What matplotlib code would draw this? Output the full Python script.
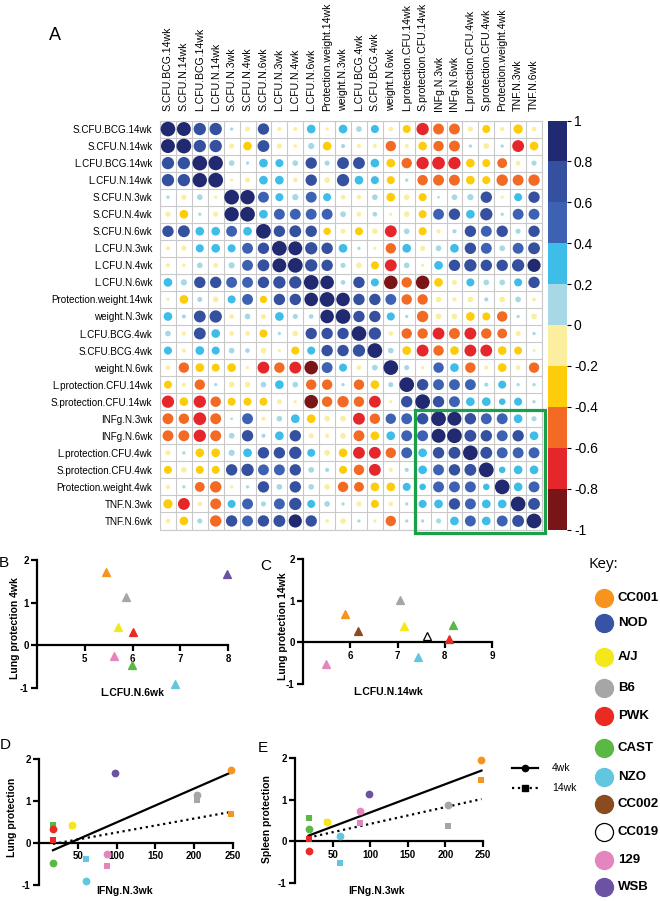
import numpy as np
import matplotlib
matplotlib.use("Agg")
import matplotlib.pyplot as plt
from matplotlib.colors import ListedColormap, BoundaryNorm
from matplotlib.patches import Rectangle

plt.rcParams["font.family"] = ["Liberation Sans", "DejaVu Sans"]

# ---- panel A: correlation matrix (lower triangle, mirrored) ----
VARS = ["S.CFU.BCG.14wk", "S.CFU.N.14wk", "L.CFU.BCG.14wk", "L.CFU.N.14wk",
        "S.CFU.N.3wk", "S.CFU.N.4wk", "S.CFU.N.6wk", "L.CFU.N.3wk", "L.CFU.N.4wk",
        "L.CFU.N.6wk", "Protection.weight.14wk", "weight.N.3wk", "L.CFU.BCG.4wk",
        "S.CFU.BCG.4wk", "weight.N.6wk", "L.protection.CFU.14wk", "S.protection.CFU.14wk",
        "INFg.N.3wk", "INFg.N.6wk", "L.protection.CFU.4wk", "S.protection.CFU.4wk",
        "Protection.weight.4wk", "TNF.N.3wk", "TNF.N.6wk"]

LOWER = [
    [1],
    [0.9, 1],
    [0.7, 0.7, 1],
    [0.7, 0.7, 0.95, 1],
    [0.05, -0.12, 0.15, -0.05, 1],
    [-0.12, -0.35, 0.05, -0.12, 0.95, 1],
    [0.6, 0.65, 0.35, 0.35, 0.55, 0.35, 1],
    [-0.08, -0.12, 0.3, 0.35, 0.3, 0.55, 0.6, 1],
    [-0.08, -0.06, 0.15, -0.1, 0.18, 0.55, 0.65, 0.9, 1],
    [0.35, 0.18, 0.6, 0.6, 0.55, 0.55, 0.6, 0.7, 0.7, 1],
    [-0.05, -0.35, 0.12, -0.15, 0.3, 0.55, -0.25, 0.6, 0.6, 0.85, 1],
    [0.35, 0.08, 0.65, 0.7, -0.1, 0.15, -0.12, 0.35, 0.12, 0.1, 0.85, 1],
    [0.15, -0.08, 0.65, 0.35, -0.1, -0.1, -0.3, 0.05, -0.15, 0.6, 0.6, 0.6, 1],
    [0.3, -0.08, 0.35, 0.3, 0.15, 0.1, -0.15, -0.05, -0.3, 0.3, 0.6, 0.6, 0.7, 1],
    [-0.1, -0.5, -0.35, -0.3, -0.35, -0.05, -0.65, -0.5, -0.65, -0.85, 0.55, 0.3, -0.1, 0.15, 1],
    [-0.3, -0.08, -0.5, 0.05, -0.15, -0.15, 0.15, 0.35, 0.15, -0.5, -0.5, 0.05, -0.5, -0.35, 0.12, 1],
    [-0.7, -0.35, -0.7, -0.5, -0.3, -0.3, -0.3, -0.12, -0.05, -0.85, -0.5, -0.6, -0.5, -0.65, -0.05,
     0.6, 1],
    [-0.55, -0.5, -0.75, -0.55, 0.03, 0.55, -0.08, 0.15, 0.35, -0.35, -0.15, -0.15, -0.65, -0.5, 0.5,
     0.55, 0.6, 1],
    [-0.55, -0.55, -0.7, -0.55, 0.15, 0.6, 0.08, 0.35, 0.6, -0.12, -0.08, -0.15, -0.55, -0.35, 0.35,
     0.55, 0.55, 0.9, 1],
    [-0.12, 0.05, -0.35, -0.35, 0.18, 0.35, 0.6, 0.6, 0.7, 0.3, -0.15, -0.35, -0.65, -0.65, -0.5,
     0.55, 0.35, 0.6, 0.65, 1],
    [-0.3, -0.15, -0.3, -0.3, 0.6, 0.7, 0.55, 0.55, 0.6, 0.15, 0.08, -0.3, -0.5, -0.65, -0.08,
     0.08, 0.35, 0.55, 0.6, 0.65, 1],
    [-0.08, 0.05, -0.45, -0.6, -0.05, 0.05, 0.6, 0.15, 0.6, 0.15, -0.15, -0.5, -0.45, -0.35, -0.35,
     0.3, 0.2, 0.55, 0.55, 0.55, 0.2, 1],
    [-0.4, -0.65, -0.1, -0.55, 0.3, 0.55, 0.12, 0.55, 0.7, 0.3, 0.15, 0.05, -0.12, -0.3, -0.1,
     0.05, 0.3, 0.35, 0.6, 0.55, 0.35, 0.35, 1],
    [-0.1, -0.35, 0.12, -0.6, 0.6, 0.55, 0.6, 0.65, 0.8, 0.6, -0.06, -0.15, 0.05, -0.05, -0.5,
     0.05, 0.05, 0.12, 0.35, 0.55, 0.35, 0.55, 0.65, 1],
]

BIN_COLORS = ["#7a1517", "#e5262a", "#f26a23", "#fdcd0b", "#fcee9f",
              "#a7d8e6", "#3fbde9", "#3e62b3", "#34509f", "#212a71"]
CBAR_TICKS = [-1, -0.8, -0.6, -0.4, -0.2, 0, 0.2, 0.4, 0.6, 0.8, 1]

# ---- strains ----
STRAINS = ["CC001", "NOD", "A/J", "B6", "PWK", "CAST", "NZO", "CC002", "CC019", "129", "WSB"]
STRAIN_COLORS = ["#f7941d", "#3953a4", "#f2e81c", "#a6a6a6", "#ec2a24", "#5ab845",
                 "#62c6df", "#8a4b1f", "white", "#e585bd", "#6c52a2"]
COLOR = dict(zip(STRAINS, STRAIN_COLORS))

# panel B
B_STRAIN = ["CC001", "B6", "A/J", "PWK", "129", "CAST", "NZO", "WSB"]
B_X = [5.44, 5.86, 5.70, 6.0, 5.62, 5.98, 6.90, 7.98]
B_Y = [1.73, 1.14, 0.43, 0.31, -0.24, -0.47, -0.90, 1.67]
# panel C
C_STRAIN = ["129", "CC001", "CC002", "B6", "A/J", "CC019", "NZO", "PWK", "CAST"]
C_X = [5.49, 5.89, 6.17, 7.05, 7.14, 7.62, 7.43, 8.10, 8.17]
C_Y = [-0.53, 0.69, 0.26, 1.01, 0.39, 0.14, -0.36, 0.07, 0.42]
# panels D / E
DE_STRAIN = ["CC001", "B6", "WSB", "A/J", "CAST", "PWK", "NZO", "129"]
IFNG = [248, 203, 98, 42, 18, 18, 60, 87]
LUNG_4WK = [1.75, 1.15, 1.67, 0.44, -0.47, 0.33, -0.91, -0.25]
LUNG_14WK = [0.68, 1.02, np.nan, 0.40, 0.43, 0.07, -0.38, -0.55]
SPLEEN_4WK = [1.95, 0.88, 1.13, 0.47, 0.29, -0.22, 0.14, 0.73]
SPLEEN_14WK = [1.48, 0.37, np.nan, 0.46, 0.55, 0.06, -0.51, 0.43]

W, H = 660, 901
fig = plt.figure(figsize=(W / 100, H / 100), dpi=100)


def px_axes(x0, y0, x1, y1):
    return fig.add_axes([x0 / W, 1 - y1 / H, (x1 - x0) / W, (y1 - y0) / H])


# ---- correlation matrix ----
n = len(VARS)
corr = np.eye(n)
for i, row in enumerate(LOWER):
    for j, v in enumerate(row):
        corr[i, j] = corr[j, i] = v

cmap = ListedColormap(BIN_COLORS)
norm = BoundaryNorm(CBAR_TICKS, cmap.N)

ax = px_axes(160, 120.5, 542, 529.5)
ii, jj = np.indices((n, n))
ax.scatter(jj.ravel(), ii.ravel(), s=112 * np.abs(corr).ravel(), c=corr.ravel(),
           cmap=cmap, norm=norm, linewidths=0, zorder=3)
for k in np.arange(n + 1) - 0.5:
    ax.axhline(k, color="#c9c9c9", lw=0.8, zorder=1)
    ax.axvline(k, color="#c9c9c9", lw=0.8, zorder=1)
ax.set_xlim(-0.5, n - 0.5)
ax.set_ylim(n - 0.5, -0.5)
ax.xaxis.tick_top()
ax.set_xticks(range(n))
ax.set_xticklabels(VARS, rotation=90, fontsize=7.6)
ax.set_yticks(range(n))
ax.set_yticklabels(VARS, fontsize=7.1)
ax.tick_params(axis="x", length=0, pad=6.5)
ax.tick_params(axis="y", length=0, pad=5.5)
for s in ax.spines.values():
    s.set_color("#c9c9c9")
    s.set_linewidth(0.8)
ax.add_patch(Rectangle((15.5, 16.5), 8.2, 7.2, fill=False, ec="#1ba04a", lw=2.3,
                       clip_on=False, zorder=5))

# colour bar
cax = px_axes(548, 120.5, 567, 529.5)
edges = np.array(CBAR_TICKS, dtype=float)
cax.pcolormesh([0, 1], edges, ((edges[:-1] + edges[1:]) / 2).reshape(-1, 1),
               cmap=cmap, norm=norm)
cax.set_xlim(0, 1)
cax.set_ylim(-1, 1)
cax.set_xticks([])
cax.yaxis.tick_right()
cax.set_yticks(CBAR_TICKS)
cax.set_yticklabels([f"{v:g}" for v in CBAR_TICKS])
cax.tick_params(axis="y", length=3, width=0.8, labelsize=10, pad=2)
for s in cax.spines.values():
    s.set_visible(False)


# ---- scatter panels ----
def panel(box, xlim, xticks):
    a = px_axes(*box)
    a.set_xlim(*xlim)
    a.set_ylim(-1, 2)
    a.patch.set_visible(False)
    a.spines["top"].set_visible(False)
    a.spines["right"].set_visible(False)
    a.spines["bottom"].set_position(("data", 0))
    for s in ("left", "bottom"):
        a.spines[s].set_linewidth(1.6)
    a.set_xticks(xticks)
    a.set_xticklabels([str(t) for t in xticks], fontweight="bold")
    a.set_yticks([-1, 0, 1, 2])
    a.set_yticklabels(["-1", "0", "1", "2"], fontweight="bold")
    a.tick_params(labelsize=7, width=1.6, length=4, pad=2)
    return a


def triangles(a, strains, xs, ys):
    for s, x, y in zip(strains, xs, ys):
        edge = "black" if s == "CC019" else COLOR[s]
        a.plot(x, y, "^", ms=6.2, mfc=COLOR[s], mec=edge, mew=0.9, clip_on=False, zorder=4)


axB = panel((37, 560, 228, 688), (4, 8), [5, 6, 7, 8])
triangles(axB, B_STRAIN, B_X, B_Y)
axC = panel((303, 559, 492, 684), (5, 9), [6, 7, 8, 9])
triangles(axC, C_STRAIN, C_X, C_Y)


def ifng_panel(box, y4, y14):
    a = panel(box, (0, 250), [50, 100, 150, 200, 250])
    x = np.array(IFNG, dtype=float)
    for ys, mk, ls in ((np.array(y14), "s", ":"), (np.array(y4), "o", "-")):
        ok = ~np.isnan(ys)
        m, b = np.polyfit(x[ok], ys[ok], 1)
        xs = np.array([x[ok].min(), x[ok].max()])
        a.plot(xs, m * xs + b, color="black", lw=1.6, ls=ls, zorder=2)
        for s, xi, yi in zip(DE_STRAIN, x, ys):
            if not np.isnan(yi):
                a.plot(xi, yi, mk, ms=5.6 if mk == "o" else 5, color=COLOR[s],
                       mew=0, clip_on=False, zorder=4)
    return a


ifng_panel((39, 759, 233, 885), LUNG_4WK, LUNG_14WK)
ifng_panel((295, 758, 483, 883), SPLEEN_4WK, SPLEEN_14WK)

# ---- overlay for free text, key and legend (pixel coordinates) ----
ov = fig.add_axes([0, 0, 1, 1])
ov.set_xlim(0, W)
ov.set_ylim(H, 0)
ov.axis("off")

for letter, x, y, fs in (("A", 55, 35, 13), ("B", 4, 563, 11), ("C", 266, 566, 11),
                         ("D", 5, 745, 11), ("E", 263, 748, 11)):
    ov.text(x, y, letter, fontsize=fs, ha="center", va="center")

lab = dict(fontsize=7.5, fontweight="bold", ha="center", va="center")
ov.text(15, 628, "Lung protection 4wk", rotation=90, **lab)
ov.text(132, 693, "L.CFU.N.6wk", **lab)
ov.text(283, 626, "Lung protection 14wk", rotation=90, **lab)
ov.text(388, 692, "L.CFU.N.14wk", **lab)
ov.text(12, 817, "Lung protection", rotation=90, **lab)
ov.text(125, 891, "IFNg.N.3wk", **lab)
ov.text(267, 819, "Spleen protection", rotation=90, **lab)
ov.text(377, 891, "IFNg.N.3wk", **lab)

# 4wk / 14wk legend
ov.plot([512, 538], [768, 768], color="black", lw=1.6)
ov.plot(525, 768, "o", color="black", ms=4.5)
ov.plot([512, 538], [788, 788], color="black", lw=1.6, ls=":")
ov.plot(525, 788, "s", color="black", ms=4.5)
ov.text(552, 768, "4wk", fontsize=7.5, va="center")
ov.text(552, 788, "14wk", fontsize=7.5, va="center")

# strain key
ov.text(588, 565, "Key:", fontsize=11, va="center", family=["Open Sans", "DejaVu Sans"])
KEY_Y = [598, 623, 657, 688, 716, 748, 777, 804, 832, 860, 887]
for s, y in zip(STRAINS, KEY_Y):
    ov.plot(604, y, "o", ms=13, mfc=COLOR[s], mec="black" if s == "CC019" else COLOR[s],
            mew=0.9)
    ov.text(618, y, s, fontsize=9.5, fontweight="bold", va="center")

fig.savefig("out.png", dpi=100)
